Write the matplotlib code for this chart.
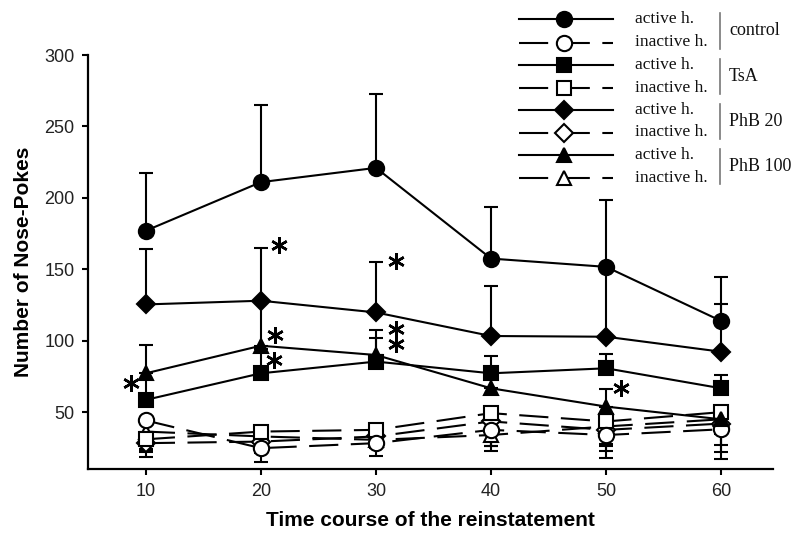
import matplotlib.pyplot as plt
from matplotlib.lines import Line2D

W, H = 796, 533

minutes = [10, 20, 30, 40, 50, 60]

# active hole (filled markers, solid lines), mean and upper error
control_act = [177, 211, 221, 157.5, 151.7, 113.8]
control_act_err = [40.5, 54, 51.7, 36, 46.6, 31]
tsa_act = [58.6, 77.2, 85.4, 77.2, 80.7, 66.7]
tsa_act_err = [14.4, 17, 16.3, 12, 10, 9.3]
phb20_act = [125.4, 128, 119.8, 103.3, 102.8, 92.3]
phb20_act_err = [39.1, 37, 35.4, 35.2, 48, 33.1]
phb100_act = [77.2, 96.5, 90, 66.7, 53.9, 45]
phb100_act_err = [19.8, 31, 17.5, 10, 12, 5]

# inactive hole (open markers, dashed lines), mean and lower error
control_in = [44.2, 24.8, 28.3, 37.6, 34, 38]
control_in_err = [20, 9.4, 9, 15, 16, 11]
tsa_in = [31, 36.4, 37.6, 49.3, 43.5, 50]
tsa_in_err = [8, 8, 7, 12, 17.5, 27.6]
phb20_in = [28.3, 29.4, 33, 43.5, 37.6, 42]
phb20_in_err = [10, 8, 8, 17.5, 15, 25]
phb100_in = [36.4, 33, 30.6, 34, 40, 45]
phb100_in_err = [14, 10, 6, 8, 12, 10]

groups = ["control", "TsA", "PhB 20", "PhB 100"]
markers = ["o", "s", "D", "^"]
msizes = [11, 9.5, 9, 10]

star_x = [21.6, 31.7, 21.2, 21.1, 31.7, 31.7, 8.7, 51.3]
star_y = [167, 155.7, 104, 86.5, 107.9, 97.7, 70.2, 66.7]

dash = (0, (14, 6))

fig = plt.figure(figsize=(W / 100, H / 100), dpi=100)
ax = fig.add_axes([88.3 / W, 1 - 469.3 / H, (773 - 88.3) / W, (469.3 - 55) / H])

active = [(control_act, control_act_err), (tsa_act, tsa_act_err),
          (phb20_act, phb20_act_err), (phb100_act, phb100_act_err)]
inactive = [(control_in, control_in_err), (tsa_in, tsa_in_err),
            (phb20_in, phb20_in_err), (phb100_in, phb100_in_err)]
zeros = [0] * len(minutes)

for i in [3, 2, 1, 0]:
    vals, err = inactive[i]
    ax.errorbar(minutes, vals, yerr=[err, zeros], color="black", ls=dash, lw=1.5,
                marker=markers[i], ms=msizes[i], mfc="white", mec="black", mew=1.5,
                capsize=5, elinewidth=1.5, capthick=1.5)
for i in [3, 1, 2, 0]:
    vals, err = active[i]
    ax.errorbar(minutes, vals, yerr=[zeros, err], color="black", ls="-", lw=1.5,
                marker=markers[i], ms=msizes[i], mfc="black", mec="black", mew=1.5,
                capsize=5, elinewidth=1.5, capthick=1.5)

ax.plot(star_x, star_y, ls="none", marker=(6, 2, 0), ms=12, mew=1.8, color="black")

ax.set_xlim(5, 64.5)
ax.set_ylim(10, 300)
ax.set_xticks(minutes)
ax.set_yticks([50, 100, 150, 200, 250, 300])
ax.spines["top"].set_visible(False)
ax.spines["right"].set_visible(False)
for s in ["left", "bottom"]:
    ax.spines[s].set_linewidth(1.6)
ax.tick_params(direction="out", length=4, width=1.5, labelsize=13, pad=6, colors="black")
for lab in ax.get_xticklabels() + ax.get_yticklabels():
    lab.set_fontfamily("Liberation Sans")
    lab.set_color("#222222")

ax.set_xlabel("Time course of the reinstatement", fontsize=15, fontweight="bold",
              family="Liberation Sans", labelpad=8)
ax.set_ylabel("Number of Nose-Pokes", fontsize=15, fontweight="bold",
              family="Liberation Sans", labelpad=8)

# legend drawn by hand in pixel positions
row_y = [19, 42.5, 65, 87.5, 110, 132.5, 155, 177.5]
for g in range(4):
    for k, (face, ls, lab) in enumerate([("black", "-", "active h."), ("white", dash, "inactive h.")]):
        y = 1 - row_y[2 * g + k] / H
        fig.add_artist(Line2D([519 / W, 613 / W], [y, y], color="black", lw=1.5, ls=ls))
        fig.add_artist(Line2D([564 / W], [y], marker=markers[g], ms=msizes[g],
                              mfc=face, mec="black", mew=1.5, ls="none"))
        fig.text(635 / W, y, lab, fontsize=12.5, family="Liberation Serif",
                 va="center", ha="left", color="#111111")
    y0 = 1 - (row_y[2 * g] - 6) / H
    y1 = 1 - (row_y[2 * g + 1] + 6) / H
    fig.add_artist(Line2D([720 / W, 720 / W], [y0, y1], color="#777777", lw=1.2))
    fig.text(729 / W, (y0 + y1) / 2, groups[g], fontsize=13, family="Liberation Serif",
             va="center", ha="left", color="#111111")

fig.savefig("out.png", dpi=100)
